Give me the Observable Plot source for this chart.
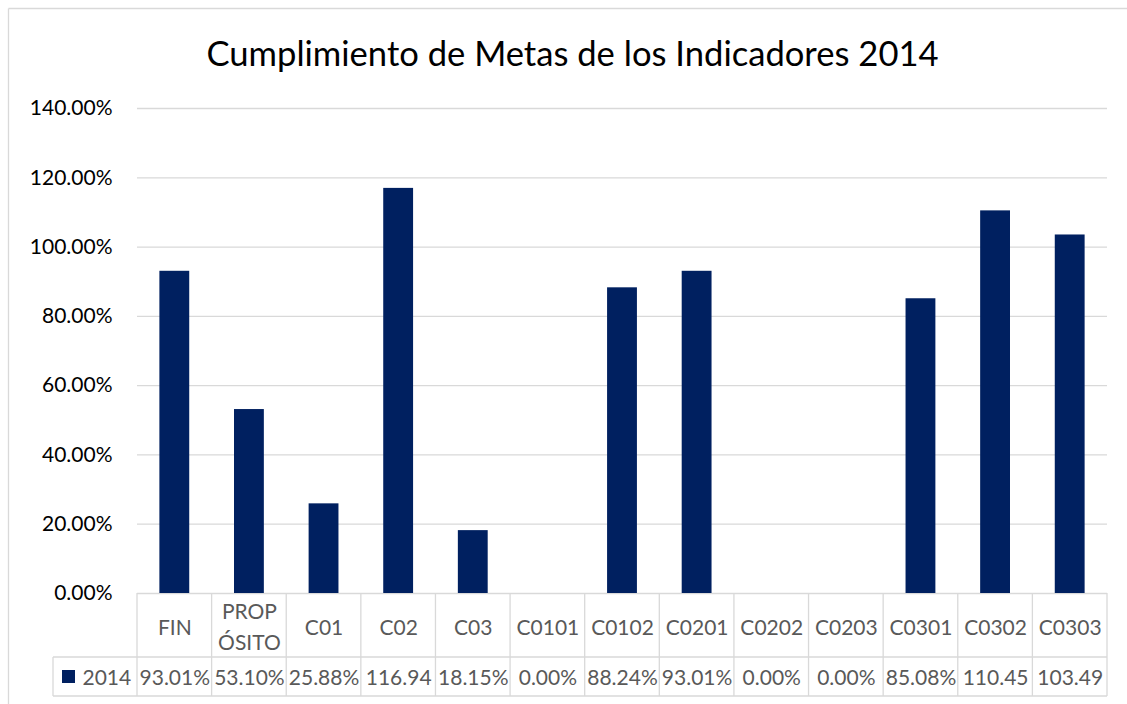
<!DOCTYPE html>
<html>
<head>
<meta charset="utf-8">
<script src="https://cdn.jsdelivr.net/npm/d3@7"></script>
<script src="https://cdn.jsdelivr.net/npm/@observablehq/plot@0.6"></script>
<style>
  html, body { margin: 0; padding: 0; background: #fff; overflow: hidden; }
  svg { display: block; }
</style>
</head>
<body>
<div id="chart"></div>
<script>
const chartTitle = "Cumplimiento de Metas de los Indicadores 2014";
const categories = ["FIN", "PROPÓSITO", "C01", "C02", "C03", "C0101", "C0102", "C0201", "C0202", "C0203", "C0301", "C0302", "C0303"];
const headerLabels = ["FIN", "PROP\nÓSITO", "C01", "C02", "C03", "C0101", "C0102", "C0201", "C0202", "C0203", "C0301", "C0302", "C0303"];
const seriesName = "2014";
const values2014 = [0.9301, 0.5310, 0.2588, 1.1694, 0.1815, 0.0000, 0.8824, 0.9301, 0.0000, 0.0000, 0.8508, 1.1045, 1.0349];
const valueLabels = ["93.01%", "53.10%", "25.88%", "116.94", "18.15%", "0.00%", "88.24%", "93.01%", "0.00%", "0.00%", "85.08%", "110.45", "103.49"];
const yTicks = [0, 0.2, 0.4, 0.6, 0.8, 1.0, 1.2, 1.4];

const data = categories.map((c, i) => ({category: c, value: values2014[i], header: headerLabels[i], label: valueLabels[i]}));

const FONT = "Lato";
const BAR = "#002060";
const GRID = "#d9d9d9";
const TXT = "#595959";

const W = 1127, H = 704;
const margin = {left: 137, right: 20, top: 108, bottom: 111};
const headerH = 64, valueH = 39, legendLeft = 53;

function tableMark(index, scales, values, dims) {
  const g = d3.create("svg:g");
  const x0 = dims.marginLeft, x1 = dims.width - dims.marginRight;
  const yb = dims.height - dims.marginBottom;
  const step = (x1 - x0) / categories.length;
  const line = (xa, ya, xb, yb2) => g.append("line")
    .attr("x1", xa).attr("y1", ya).attr("x2", xb).attr("y2", yb2)
    .attr("stroke", GRID).attr("stroke-width", 1.3);
  // outer chart border (top and left visible)
  line(8.5, 8.5, dims.width, 8.5);
  line(8.5, 8.5, 8.5, dims.height);
  // table column separators
  for (let i = 0; i <= categories.length; i++) {
    line(x0 + i * step, yb, x0 + i * step, yb + headerH + valueH);
  }
  // horizontal separators
  line(legendLeft, yb + headerH, x1, yb + headerH);
  line(legendLeft, yb + headerH + valueH, x1, yb + headerH + valueH);
  line(legendLeft, yb + headerH, legendLeft, yb + headerH + valueH);
  // legend swatch
  g.append("rect")
    .attr("x", 62).attr("y", yb + headerH + 13)
    .attr("width", 13).attr("height", 13)
    .attr("fill", BAR);
  return g.node();
}

const chart = Plot.plot({
  width: W,
  height: H,
  marginLeft: margin.left,
  marginRight: margin.right,
  marginTop: margin.top,
  marginBottom: margin.bottom,
  style: {fontFamily: FONT, background: "#fff", overflow: "hidden"},
  x: {domain: categories, paddingInner: 0.6, paddingOuter: 0.3, round: false, axis: null},
  y: {domain: [0, 1.4], axis: null},
  marks: [
    Plot.gridY(yTicks, {stroke: GRID, strokeOpacity: 1, strokeWidth: 1.3}),
    Plot.axisY(yTicks, {label: null, tickSize: 0, tickPadding: 25, tickFormat: d3.format(".2%"), fontSize: 21, fill: "#000"}),
    Plot.barY(data, {x: "category", y: "value", fill: BAR}),
    tableMark,
    Plot.text(data, {x: "category", text: "header", frameAnchor: "bottom", dy: headerH / 2 - 1, lineAnchor: "middle", lineHeight: 1.5, fontSize: 21, fill: TXT, fontFamily: FONT}),
    Plot.text(data, {x: "category", text: "label", frameAnchor: "bottom", dy: headerH + valueH / 2 + 1, lineAnchor: "middle", fontSize: 21, fill: TXT, fontFamily: FONT}),
    Plot.text([seriesName], {frameAnchor: "bottom-left", dx: -55, dy: headerH + valueH / 2 + 1, textAnchor: "start", lineAnchor: "middle", fontSize: 21, fill: TXT, fontFamily: FONT}),
    Plot.text([chartTitle], {frameAnchor: "top", dx: -50, dy: -43, lineAnchor: "bottom", fontSize: 34.6, fill: "#000", fontFamily: FONT})
  ]
});

document.getElementById("chart").appendChild(chart);
</script>
</body>
</html>
